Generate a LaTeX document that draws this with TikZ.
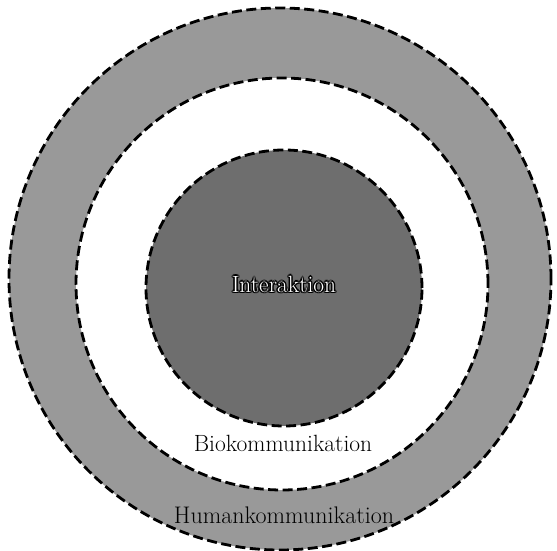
\documentclass[tikz,border=0pt]{standalone}
\usepackage{tikz}
\newcommand{\shcopy}[3]{\rlap{\hspace*{#1}\raisebox{#2}{\textcolor{black}{#3}}}}
\newcommand{\haloText}[1]{%
  \shcopy{-1.4pt}{0pt}{#1}\shcopy{1.4pt}{0pt}{#1}%
  \shcopy{0pt}{1.4pt}{#1}\shcopy{0pt}{-1.4pt}{#1}%
  \shcopy{-1pt}{-1pt}{#1}\shcopy{1pt}{1pt}{#1}%
  \shcopy{-1pt}{1pt}{#1}\shcopy{1pt}{-1pt}{#1}%
  \textcolor{white}{#1}}
\tikzset{
  ringline/.style={draw=black, line width=2.8pt, dash pattern=on 10pt off 4.5pt},
  lbl/.style={font=\fontsize{23.5}{26}\selectfont, inner sep=0pt},
}
\begin{document}
\begin{tikzpicture}[x=1pt,y=1pt]
\useasboundingbox (0,0) rectangle (557,551);
\fill[white] (0,0) rectangle (557,551);
\node[circle, minimum size=542pt, inner sep=0pt, fill=black!40, ringline] (outer) at (280,272) {};
\node[circle, minimum size=412pt, inner sep=0pt, fill=white, ringline] (middle) at (282,267) {};
\node[circle, minimum size=276pt, inner sep=0pt, fill=black!57, ringline] (inner) at (284,263) {};
\node[lbl] (tint) at ([yshift=4pt]inner.center) {\haloText{Interaktion}};
\node[lbl, text=black] (tbio) at (283,108) {Biokommunikation};
\node[lbl, text=black, font=\fontsize{24}{26}\selectfont] (thum) at (284,36) {Humankommunikation};
\end{tikzpicture}
\end{document}
